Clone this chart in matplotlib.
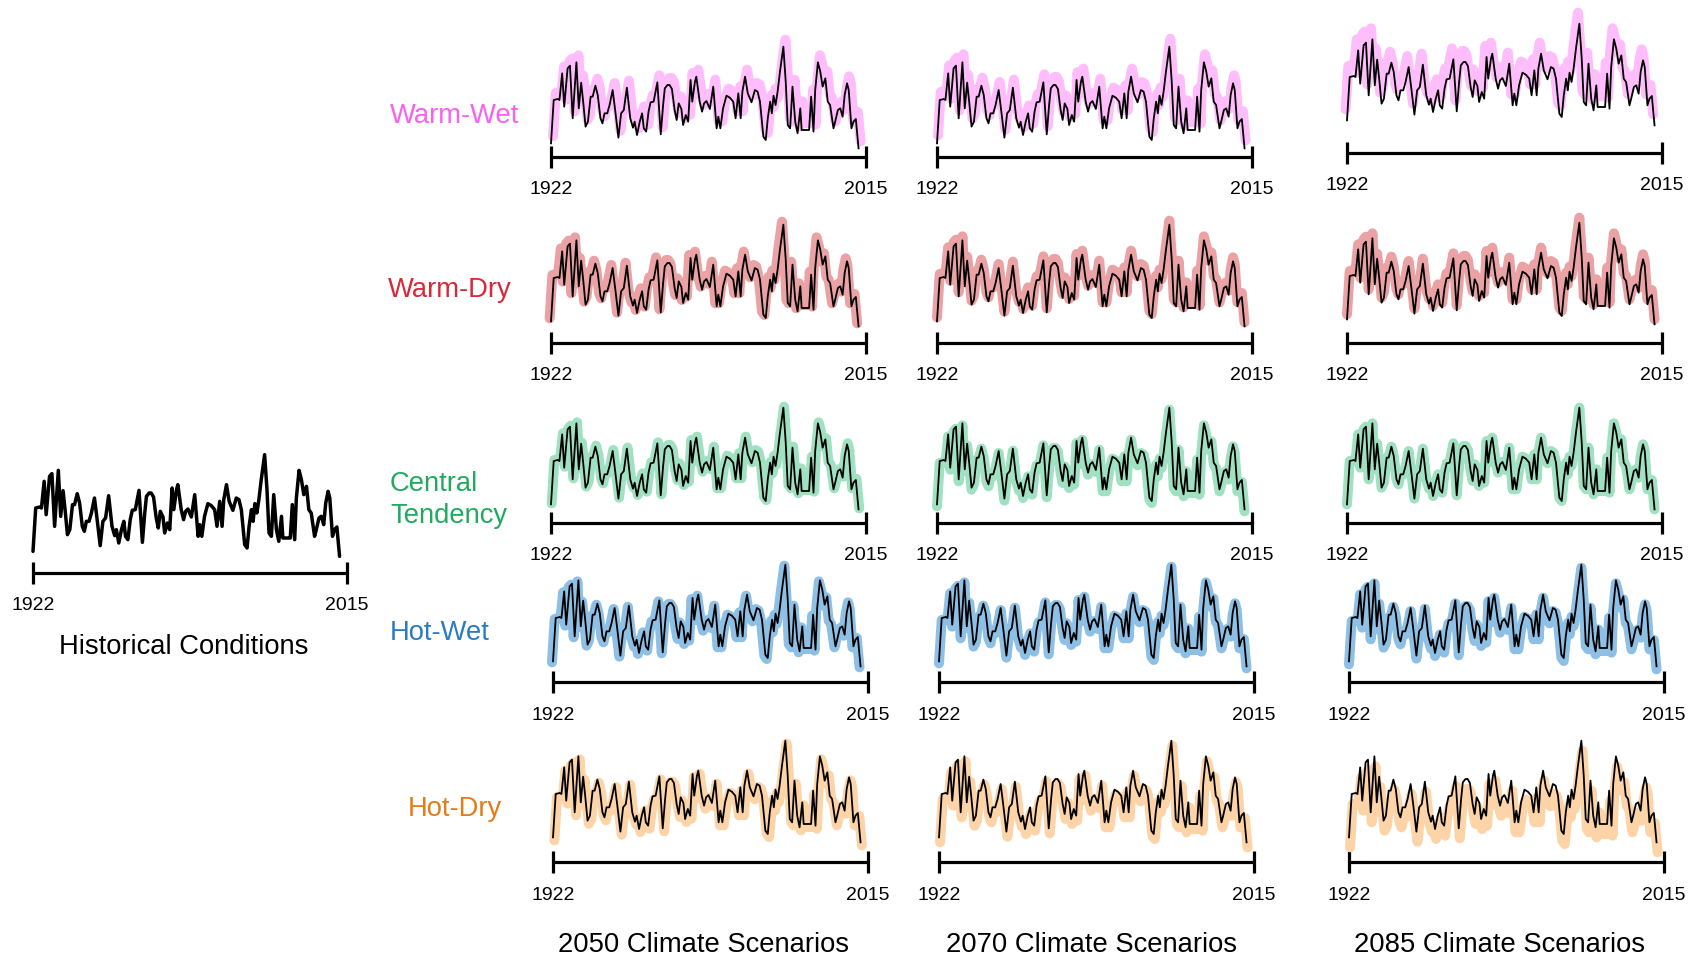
import matplotlib
matplotlib.use("Agg")
import matplotlib.pyplot as plt
import numpy as np

plt.rcParams["font.family"] = ["Liberation Sans", "DejaVu Sans"]

# Historical annual index, 1922-2015 (decimal year, relative magnitude)
hist_points = [
    (1922.0, 35), (1922.8, 165), (1924.0, 168), (1924.5, 165), (1925.3, 245),
    (1925.9, 145), (1926.9, 260), (1927.6, 268), (1928.4, 110), (1929.5, 278),
    (1930.2, 140), (1930.9, 217), (1931.5, 160), (1932.2, 85), (1932.9, 100),
    (1933.7, 175), (1934.3, 175), (1935.1, 208), (1935.8, 180), (1936.6, 110),
    (1937.2, 95), (1937.8, 125), (1938.6, 125), (1939.3, 150), (1940.2, 195),
    (1941.0, 130), (1941.9, 52), (1942.7, 125), (1943.5, 135), (1944.4, 202),
    (1945.4, 110), (1946.2, 82), (1946.7, 100), (1947.4, 60), (1948.2, 100),
    (1948.9, 125), (1949.4, 80), (1950.1, 70), (1950.8, 130), (1951.4, 158),
    (1952.3, 160), (1953.4, 218), (1954.4, 62), (1955.1, 150), (1955.6, 200),
    (1956.4, 210), (1957.0, 210), (1957.7, 198), (1958.5, 135), (1959.1, 105),
    (1959.7, 155), (1960.5, 138), (1961.0, 90), (1961.8, 120), (1962.5, 100),
    (1963.2, 225), (1963.7, 160), (1964.5, 220), (1964.9, 235), (1965.9, 160),
    (1966.6, 130), (1967.2, 155), (1967.9, 162), (1968.9, 138), (1969.9, 205),
    (1970.9, 80), (1971.4, 115), (1972.0, 80), (1972.8, 140), (1973.8, 178),
    (1974.8, 172), (1975.8, 160), (1976.5, 110), (1977.3, 185), (1978.0, 110),
    (1978.5, 190), (1979.3, 235), (1980.1, 185), (1981.2, 158), (1982.2, 195),
    (1983.0, 190), (1983.7, 160), (1984.7, 55), (1985.4, 45), (1986.0, 110),
    (1986.7, 160), (1987.2, 125), (1987.7, 178), (1988.3, 150), (1988.9, 190),
    (1989.6, 250), (1990.6, 325), (1991.3, 220), (1991.9, 90), (1992.6, 80),
    (1993.3, 205), (1994.1, 100), (1994.8, 65), (1995.6, 140), (1996.0, 75),
    (1996.8, 75), (1997.5, 75), (1998.2, 75), (1998.8, 175), (1999.5, 70),
    (2000.0, 195), (2000.8, 278), (2001.5, 250), (2002.2, 205), (2003.0, 230),
    (2003.7, 160), (2004.4, 150), (2005.4, 80), (2005.9, 100), (2006.7, 135),
    (2007.4, 140), (2008.1, 115), (2008.7, 180), (2009.4, 215), (2009.9, 195),
    (2010.7, 80), (2011.3, 100), (2012.0, 108), (2012.8, 20),
]
hist_years = np.array([p[0] for p in hist_points])
hist_values = np.array([p[1] for p in hist_points], dtype=float)

start_year, end_year = 1922, 2015

scenarios = ["Warm-Wet", "Warm-Dry", "Central\nTendency", "Hot-Wet", "Hot-Dry"]
periods = ["2050 Climate Scenarios", "2070 Climate Scenarios", "2085 Climate Scenarios"]
label_colors = ["#f760f2", "#d8283a", "#1fab5f", "#2b7bc4", "#e27d18"]
band_colors = ["#ffbdfb", "#eba2a5", "#a0e1c1", "#8ec0e6", "#fdd3a8"]

# Scenario departure from the historical trace: (year shift, magnitude shift)
scenario_shift = [
    [(0.6, 21), (0.3, 24), (-0.4, 33)],
    [(-0.4, 9), (0.0, 12), (0.0, 15)],
    [(0.2, 3), (0.0, -6), (0.0, 0)],
    [(-0.3, -3), (0.0, -6), (0.0, -9)],
    [(0.4, -9), (0.3, -15), (0.3, -30)],
]

# ---- layout (pixels) ----
W, H = 1699, 960
PX = 1.0 / 3.0            # pixels per magnitude unit
BAR_V = -30               # magnitude level of the timeline bar
SPAN = 315                # timeline length in pixels

col_left = [551, 937, 1347]
row_xnudge = [0, 0, 0, 2, 2]
panel_bar_y = [[157, 157, 153], [343, 343, 343], [523, 523, 523],
               [682, 682, 682], [862, 862, 862]]
# vertical offset of the trace above its timeline, relative to the historical panel
panel_lift = [[-8, -8, 11], [0, 0, 2], [-3, -3, -3], [-1, -1, -1], [3, 3, 3]]

label_pos = [(390, 116), (388, 290), (390, 500), (390, 633), (408, 809)]
title_x = [704, 1092, 1500]
title_y = 945

fig = plt.figure(figsize=(W / 100, H / 100), dpi=100)


def make_panel(left, bar_y, lift=0.0, span=SPAN):
    """Axes whose x runs 1922-2015 across `span` px and y is in magnitude units."""
    top_px = bar_y - 170
    bot_px = bar_y + 20
    ax = fig.add_axes([left / W, 1 - bot_px / H, span / W, (bot_px - top_px) / H])
    bar_v = BAR_V - lift / PX
    v_bottom = bar_v - 20 / PX
    ax.set_xlim(start_year, end_year)
    ax.set_ylim(v_bottom, v_bottom + (bot_px - top_px) / PX)
    ax.axis("off")
    ax.plot([start_year, end_year], [bar_v, bar_v], color="black", lw=2.3,
            solid_capstyle="butt", clip_on=False)
    for yr in (start_year, end_year):
        ax.plot([yr], [bar_v], marker="|", ms=16, mew=2.3, color="black", clip_on=False)
    for yr in (start_year, end_year):
        ax.annotate(str(yr), xy=(yr, bar_v), xytext=(0, -33 * 0.72),
                    textcoords="offset points", ha="center", va="center",
                    fontsize=14, color="black", annotation_clip=False)
    return ax


# Historical panel
ax_h = make_panel(33, 573, span=314)
ax_h.plot(hist_years, hist_values, color="black", lw=2.5,
          solid_joinstyle="round", solid_capstyle="round", clip_on=False)
fig.text(184 / W, 1 - 647 / H, "Historical Conditions", ha="center", va="center",
         fontsize=19.7, color="black")

# Scenario grid
for r, name in enumerate(scenarios):
    for c in range(3):
        ax = make_panel(col_left[c] + row_xnudge[r], panel_bar_y[r][c], panel_lift[r][c])
        dx, dv = scenario_shift[r][c]
        ax.plot(hist_years + dx, hist_values + dv, color=band_colors[r], lw=7.2,
                solid_joinstyle="round", solid_capstyle="round", clip_on=False, zorder=2)
        ax.plot(hist_years, hist_values, color="black", lw=1.3,
                solid_joinstyle="round", clip_on=False, zorder=3)
    lx, ly = label_pos[r]
    fig.text(lx / W, 1 - ly / H, name, ha="left", va="center", fontsize=19.7,
             color=label_colors[r], linespacing=1.3)

for c, t in enumerate(periods):
    fig.text(title_x[c] / W, 1 - title_y / H, t, ha="center", va="center",
             fontsize=19.7, color="black")

fig.savefig("out.png", dpi=100, facecolor="white")
